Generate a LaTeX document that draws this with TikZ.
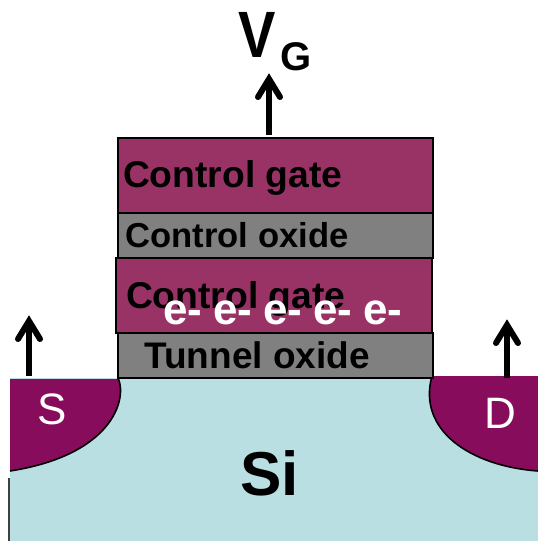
\documentclass[tikz,border=0pt]{standalone}
\usepackage{fontspec}
\usepackage{graphicx}
\setmainfont{Liberation Sans}
\definecolor{gatec}{HTML}{993366}
\definecolor{oxidec}{HTML}{808080}
\definecolor{sdc}{HTML}{880C5C}
\definecolor{sic}{HTML}{BADFE3}
\tikzset{
  layer/.style={draw=black,line width=2pt,inner sep=0pt,outer sep=0pt},
  gatebox/.style={layer,fill=gatec},
  oxidebox/.style={layer,fill=oxidec},
  lab/.style={anchor=base west,inner sep=0pt,outer sep=0pt,font=\bfseries\fontsize{#1}{#1}\selectfont},
  whitelab/.style={anchor=base,inner sep=0pt,outer sep=0pt,text=white,font=\bfseries\fontsize{44}{44}\selectfont},
  sdlab/.style={anchor=base,inner sep=0pt,outer sep=0pt,text=white,font=\fontsize{44}{44}\selectfont},
  upshaft/.style={line width=6pt},
  uphead/.style={line width=6pt,line cap=round,miter limit=10},
}
\begin{document}
\begin{tikzpicture}[x=1pt,y=-1pt]
\useasboundingbox (0,0) rectangle (538,541);
% silicon
\fill[sic] (10,378) -- (538,378) -- (538,541) -- (10,541) -- cycle;
\draw[line width=1.6pt,black!75] (8.7,478) -- (8.7,541);
% source and drain
\fill[sdc] (10,379) -- (118.5,379) .. controls (127,400) and (112,455) .. (10,471) -- cycle;
\draw[line width=1.6pt] (118.5,379) .. controls (127,400) and (112,455) .. (10,471);
\fill[sdc] (432,376) -- (538,376) -- (538,471) .. controls (470,466) and (417,430) .. (432,376) -- cycle;
\draw[line width=1.6pt] (432,376) .. controls (417,430) and (470,466) .. (538,471);
% layers
\node[gatebox,minimum width=315pt,minimum height=75pt] (cgate) at (275.5,175.5) {};
\node[oxidebox,minimum width=315pt,minimum height=45pt] (coxide) at (275.5,235.5) {};
\node[oxidebox,minimum width=315pt,minimum height=45pt] (toxide) at (275.5,355.5) {};
\node[gatebox,minimum width=316pt,minimum height=75pt] (fgate) at (274,295.5) {};
% texts
\node[lab=37.3] (t1) at (123,187) {Control gate};
\node[lab=34.6] (t2) at (125.5,247) {Control oxide};
\node[lab=37.3] (t3) at (126,308) {Control gate};
\node[lab=37] (t4) at (144.5,368) {Tunnel oxide};
\node[whitelab] (e1) at (183,324) {e-};
\node[whitelab] (e2) at (233,324) {e-};
\node[whitelab] (e3) at (283,324) {e-};
\node[whitelab] (e4) at (333,324) {e-};
\node[whitelab] (e5) at (383,324) {e-};
\node[lab=62] (si) at (240,495) {Si};
\node[lab=56] (vv) at (238,57) {\scalebox{1}[1.17]{V}};
\node[lab=40] (vg) at (280,70) {G};
\node[sdlab] (s) at (52,424) {S};
\node[sdlab] (d) at (500,428) {D};
% arrows
\coordinate (ga) at (269,135);
\coordinate (gb) at (269,79);
\coordinate (sa) at (29,376);
\coordinate (sb) at (29,321);
\coordinate (da) at (507,378);
\coordinate (db) at (507,325);
\draw[upshaft] (ga) -- (gb);
\draw[upshaft] (sa) -- (sb);
\draw[upshaft] (da) -- (db);
\draw[uphead] ([shift={(-11,18)}]gb) -- (gb) -- ([shift={(11,18)}]gb);
\draw[uphead] ([shift={(-11,18)}]sb) -- (sb) -- ([shift={(11,18)}]sb);
\draw[uphead] ([shift={(-11,18)}]db) -- (db) -- ([shift={(11,18)}]db);
\end{tikzpicture}
\end{document}
